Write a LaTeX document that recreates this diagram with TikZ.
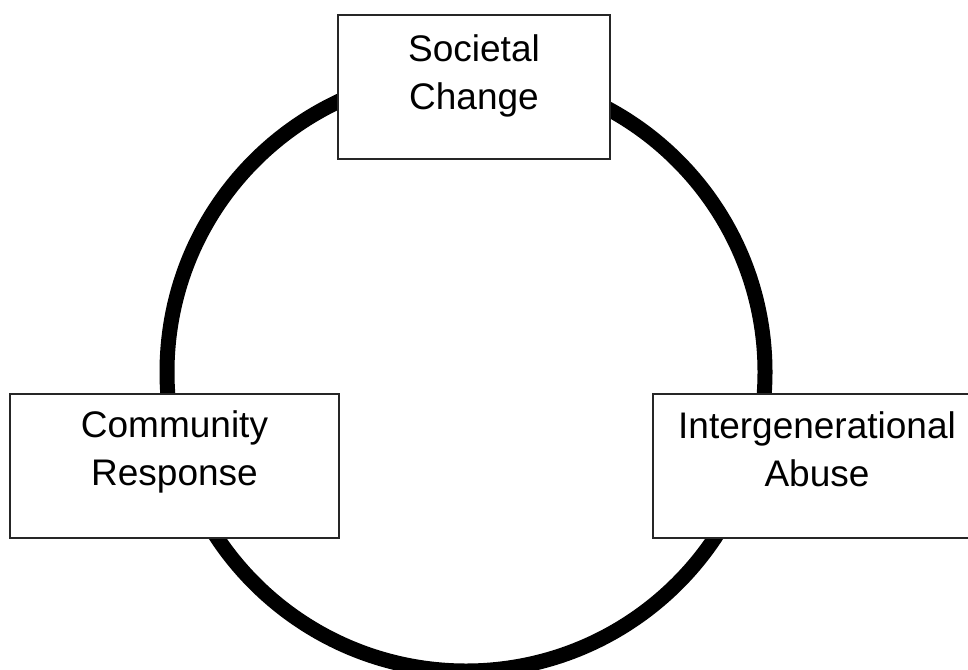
\documentclass[tikz,border=0pt]{standalone}
\usepackage{fontspec}
\setmainfont{Liberation Sans}
\usetikzlibrary{calc}
\begin{document}
\begin{tikzpicture}[x=1pt,y=-1pt,
  boxnode/.style={draw=black!85, line width=1.3pt, fill=white, rectangle, inner sep=0pt, minimum height=144pt},
  txt/.style={align=center, inner sep=0pt, font=\fontsize{37}{48}\selectfont, anchor=base}]
\useasboundingbox (0,0) rectangle (968,669);
\coordinate (c) at (466,372);
\draw[line width=15pt] (c) circle[radius=299pt];
\node[boxnode, minimum width=272pt] (sc) at (474,87) {};
\node[boxnode, minimum width=329pt] (cr) at (174.5,466) {};
\node[boxnode, minimum width=328pt] (ia) at (817,466) {};
\node[txt] (tsc) at ($(sc.north)+(0,95)$) {Societal\\Change};
\node[txt] (tcr) at ($(cr.north)+(0,92)$) {Community\\Response};
\node[txt] (tia) at ($(ia.north)+(0,93)$) {Intergenerational\\Abuse};
\end{tikzpicture}
\end{document}
